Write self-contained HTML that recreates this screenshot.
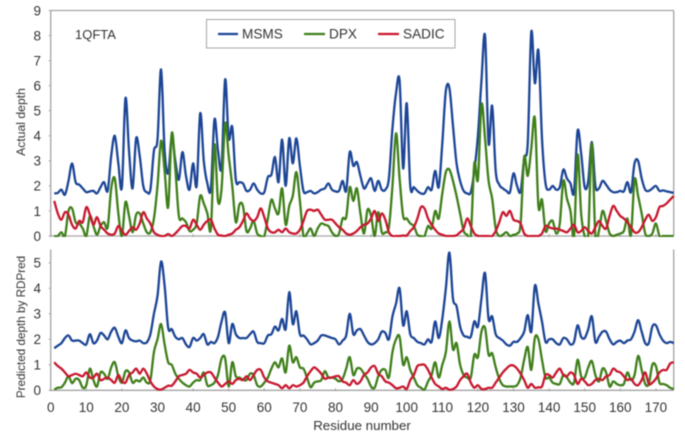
<!DOCTYPE html>
<html>
<head>
<meta charset="utf-8">
<title>Depth chart 1QFTA</title>
<style>
html,body{margin:0;padding:0;background:#fff;width:685px;height:441px;overflow:hidden}
svg{display:block;filter:blur(0.45px)}
text{font-family:"Liberation Sans",sans-serif;fill:#333333}
</style>
</head>
<body>
<svg id="chart" xmlns="http://www.w3.org/2000/svg" width="685" height="441" viewBox="0 0 685 441">
  <defs>
    <clipPath id="clip-top"><rect x="50" y="5" width="625" height="232"/></clipPath>
    <clipPath id="clip-bottom"><rect x="50" y="245" width="625" height="146.5"/></clipPath>
  </defs>
  <rect x="0" y="0" width="685" height="441" fill="#ffffff"/>
  <g id="top-panel"></g>
  <g id="bottom-panel"></g>
  <text x="75" y="39" font-size="13">1QFTA</text>
  <text transform="translate(25,122) rotate(-90)" text-anchor="middle" font-size="12.2">Actual depth</text>
  <text transform="translate(25,327) rotate(-90)" text-anchor="middle" font-size="11.7">Predicted depth by RDPred</text>
  <text x="362" y="430" text-anchor="middle" font-size="13.3">Residue number</text>
  <g>
    <rect x="206.5" y="19.5" width="248.5" height="28.5" fill="#fff" stroke="#a6a6a6" stroke-width="1"/>
    <line x1="218" y1="34" x2="238" y2="34" stroke="#1c4596" stroke-width="2.2"/>
    <text x="242" y="38.5" font-size="13.6">MSMS</text>
    <line x1="304" y1="34" x2="325" y2="34" stroke="#3f7f1a" stroke-width="2.2"/>
    <text x="329" y="38.5" font-size="13.6">DPX</text>
    <line x1="378" y1="34" x2="399" y2="34" stroke="#c8172e" stroke-width="2.2"/>
    <text x="403" y="38.5" font-size="13.6">SADIC</text>
  </g>
</svg>
<script>
var xTickLabels = [0,10,20,30,40,50,60,70,80,90,100,110,120,130,140,150,160,170];
var topYTicks = [0,1,2,3,4,5,6,7,8,9];
var bottomYTicks = [0,1,2,3,4,5];

var topMsms = [
1.7,1.72,1.85,1.65,2.2,2.9,2.15,2.05,1.9,1.75,
1.78,1.8,1.7,1.95,2.15,1.8,3.2,4.0,2.9,1.95,
5.5,3.4,1.9,3.9,3.2,2.0,1.75,1.85,3.4,3.85,
6.65,3.4,2.5,3.95,3.0,2.25,3.35,2.4,1.85,2.9,
2.0,4.9,3.0,2.1,1.9,4.65,3.4,2.75,6.25,3.9,
4.35,2.25,2.15,2.1,1.8,1.85,2.1,1.85,1.7,1.75,
2.35,2.45,3.15,2.15,3.85,2.0,3.9,2.9,3.9,2.8,
1.8,1.75,1.8,1.7,1.75,1.85,1.9,2.1,1.85,1.78,
1.8,2.2,1.8,3.35,2.8,2.95,2.4,1.9,2.1,2.3,
1.8,2.2,1.85,1.85,2.3,4.3,5.7,6.2,2.7,5.3,
2.0,1.95,1.8,1.7,1.7,1.95,1.85,2.6,1.95,3.7,
5.8,5.9,4.4,2.9,2.2,1.8,1.7,1.75,2.6,4.0,
6.2,8.0,3.7,5.2,2.6,2.05,1.9,1.8,1.75,2.5,
2.0,1.78,3.1,3.7,8.15,6.1,7.4,3.9,2.1,1.85,
2.0,1.85,1.95,2.65,2.3,2.1,1.75,4.2,3.3,1.95,
2.2,3.75,2.0,1.9,2.2,2.05,1.85,1.75,1.75,1.8,
1.78,2.15,1.75,2.9,3.0,2.3,1.85,1.8,1.9,2.0,
1.8,1.82,1.78,1.75,1.72];

var topDpx = [
0,0,.15,0,1.0,1.1,.55,.5,.3,0,
.8,.4,.05,.4,.55,.35,1.9,2.3,.9,0,
1.35,.8,.15,.85,.9,.5,.15,.15,.7,2.0,
3.8,2.6,1.15,4.1,2.7,.8,.7,.55,.2,.25,
.5,1.6,1.3,.9,.3,3.65,1.4,1.9,4.5,3.2,
2.0,.55,1.25,1.2,.2,.3,.6,.1,0,0,
.7,1.45,1.1,.9,1.9,.45,1.2,1.6,2.55,1.4,
0,.1,.3,0,.3,.5,.45,.4,.15,0,
.1,.7,.75,1.95,1.4,1.9,.9,.1,1.05,.8,
0,.95,.15,.15,.35,2.0,4.1,2.3,.8,.7,
.5,.4,.05,0,0,.4,.3,1.0,.7,1.7,
2.55,2.65,2.2,1.6,.9,.2,.05,0,2.9,2.25,
5.25,3.9,2.2,1.5,.3,0,.05,.15,0,.05,
.1,.5,3.15,2.4,3.5,4.7,1.2,1.45,.2,.5,
.6,.1,.5,2.2,1.5,1.0,0,3.25,.9,0,
.1,3.7,0,.2,1.0,.6,.1,0,.05,.1,
.2,.7,.05,2.25,1.6,.9,.1,0,.1,.5,
0,0,0,0,0];

var topSadic = [
1.4,.9,.65,.95,.85,.45,.3,.6,.55,1.15,
.85,.45,.75,.4,.25,.1,.05,.1,.4,.2,
.05,.2,.35,.25,.5,.95,.7,.5,.15,.05,
0,0,.08,0,.1,.25,.4,.4,.3,.65,
.45,.25,.45,.6,.65,.3,.05,.02,0,.05,
.1,.25,.35,.6,.9,.7,.6,.75,1.1,.75,
.3,.15,.15,.25,.15,.3,.15,.1,.1,.25,
.6,1.0,1.05,1.0,1.05,.85,.65,.65,.65,.5,
.35,.25,.1,.05,.1,.2,.35,.45,.5,.7,
1.0,.6,.9,.65,.15,0,0,0,.02,.02,
.2,.35,.7,1.15,1.1,.7,.45,.25,.1,.05,
0,0,0,.03,.15,.3,.7,.4,.1,0,
0,0,0,0,.2,.55,.95,.8,1.0,.65,
.6,.5,.1,0,0,0,0,.1,.4,.35,
.3,.3,.25,.2,.15,.3,.45,.15,.2,.35,
.2,.1,.35,.6,.4,.3,.8,1.2,1.0,.8,
.7,.55,.35,.15,.15,.35,.65,.85,.6,.75,
1.15,1.2,1.3,1.45,1.6];

var bottomMsms = [
1.65,1.75,1.85,2.05,2.15,1.95,1.95,1.95,1.85,1.8,
2.2,1.85,1.95,2.25,2.15,2.0,2.3,2.45,2.1,1.85,
2.35,2.05,1.95,1.92,1.95,1.85,1.88,2.2,3.0,3.7,
5.05,4.1,2.45,2.4,2.1,2.0,2.05,1.8,1.7,2.05,
1.95,2.05,2.2,1.8,1.9,1.85,2.1,2.7,3.05,1.85,
2.6,2.2,2.05,2.05,2.05,2.2,2.3,1.9,1.85,1.85,
2.15,2.2,2.5,2.35,2.8,2.4,3.85,2.6,3.1,2.2,
2.15,2.0,1.8,1.85,1.95,2.15,2.15,2.1,2.05,2.0,
1.8,1.95,2.15,3.0,2.2,2.35,2.4,2.15,1.9,1.8,
1.85,2.0,2.3,2.25,2.0,2.9,3.4,4.0,2.55,3.1,
2.2,2.05,1.9,1.85,1.8,2.0,1.9,2.7,2.05,2.8,
4.0,5.4,3.6,3.3,2.5,2.15,2.1,2.1,2.7,2.5,
3.6,4.6,2.8,2.9,2.2,2.05,1.95,1.8,1.75,1.9,
1.9,2.05,2.3,2.95,2.3,4.1,3.4,2.7,1.9,2.0,
2.0,1.85,1.8,2.05,2.0,1.8,1.9,2.55,2.1,2.05,
2.4,2.9,1.9,2.1,2.3,2.3,2.0,1.8,1.9,1.95,
1.85,1.95,2.0,2.3,2.75,2.3,1.85,1.85,2.5,2.55,
2.2,1.95,1.85,1.9,1.85];

var bottomDpx = [
.03,.1,.12,.3,.55,.28,.45,.4,.1,.2,
.85,.4,.15,.7,.65,.45,.9,1.1,.55,.3,
.75,.7,.3,.4,.35,.5,.3,.4,1.5,2.0,
2.6,1.8,1.1,1.0,.65,.45,.3,.2,.15,.3,
.4,.4,.7,.2,.2,.3,.6,1.25,1.25,.15,
1.1,.55,.5,.42,.4,.65,.6,.2,.15,.3,
.5,.85,1.1,.9,1.25,.7,1.75,1.1,1.3,.9,
.85,.5,.12,.3,.35,.4,.75,.5,.5,.45,
.35,.45,.85,1.3,.6,.85,.85,.65,.45,.15,
.1,.55,.8,.8,.5,1.5,2.0,2.1,1.0,1.3,
.8,.5,.2,.1,.03,.35,.6,1.1,.5,1.0,
1.5,2.7,1.6,1.85,1.0,.6,.5,.5,1.4,1.3,
2.3,2.45,1.4,1.45,.9,.45,.2,.15,.15,.15,
.2,.5,1.2,1.7,.8,2.05,2.0,1.2,.5,.5,
.3,.25,.25,.6,.5,.3,.3,1.2,.55,.5,
.9,1.15,.6,.35,.85,.7,.15,.35,.25,.2,
.25,.7,.4,.6,1.35,.8,.25,.25,1.0,.95,
.3,.25,.2,.1,.05];

var bottomSadic = [
1.1,.95,.85,.7,.55,.6,.65,.6,.55,.7,
.5,.5,.65,.4,.45,.5,.4,.3,.6,.35,
.3,.6,.7,.85,.65,.85,.65,.35,.15,.05,
.03,.1,.18,.18,.35,.55,.6,.65,.8,.7,
.65,.5,.6,.7,.7,.5,.3,.15,.25,.35,
.25,.4,.45,.4,.55,.4,.6,.8,.8,.5,
.35,.3,.25,.2,.08,.2,.08,.2,.15,.2,
.3,.55,.75,.9,.8,.65,.45,.5,.5,.55,
.55,.35,.3,.2,.4,.25,.35,.6,.7,.9,
.95,.65,.55,.35,.3,.2,.08,.1,.15,.05,
.4,.6,.95,1.0,1.0,.8,.5,.25,.15,.05,
.1,.02,.05,.15,.4,.55,.65,.3,.1,.2,
.05,.05,.1,.1,.3,.5,.7,.85,.97,.97,
.85,.65,.4,.1,.25,.1,.12,.15,.6,.6,
.5,.7,.85,.6,.55,.7,.6,.25,.45,.35,
.2,.25,.4,.45,.4,.55,.6,.85,.75,.7,
.55,.4,.45,.25,.2,.4,.7,.25,.3,.45,
.7,.8,.8,1.05,1.1];

var SVGNS = 'http://www.w3.org/2000/svg';
var X0 = 50.7, XPER = 3.56;
var COLORS = {msms:'#1c4596', dpx:'#3f7f1a', sadic:'#c8172e'};

function xScale(r){ return X0 + XPER * r; }
function topY(v){ return 236 - 25.05 * v; }
function bottomY(v){ return 390.3 - 25.5 * v; }

function make(tag, attrs, parent){
  var el = document.createElementNS(SVGNS, tag);
  for (var k in attrs) el.setAttribute(k, attrs[k]);
  parent.appendChild(el);
  return el;
}

function smoothPath(values, yFn){
  var pts = values.map(function(v,i){ return [xScale(i+1), yFn(v)]; });
  var d = 'M' + pts[0][0].toFixed(2) + ' ' + pts[0][1].toFixed(2);
  for (var i = 0; i < pts.length-1; i++){
    var p0 = pts[Math.max(i-1,0)], p1 = pts[i], p2 = pts[i+1], p3 = pts[Math.min(i+2,pts.length-1)];
    var c1x = p1[0]+(p2[0]-p0[0])/6, c1y = p1[1]+(p2[1]-p0[1])/6;
    var c2x = p2[0]-(p3[0]-p1[0])/6, c2y = p2[1]-(p3[1]-p1[1])/6;
    d += 'C'+c1x.toFixed(2)+' '+c1y.toFixed(2)+' '+c2x.toFixed(2)+' '+c2y.toFixed(2)+' '+p2[0].toFixed(2)+' '+p2[1].toFixed(2);
  }
  return d;
}

function drawSeries(parent, values, yFn, color, clip, name){
  var p = make('path', {d:smoothPath(values,yFn), fill:'none', stroke:color, 'stroke-width':'2.3', 'stroke-linejoin':'round', 'clip-path':'url(#'+clip+')'}, parent);
  
  
}

function drawAxes(parent, yFn, yTicks, yTop, hasTop, prefix){
  var stroke = '#a3a3a3';
  var left = make('line', {x1:X0, y1:yTop, x2:X0, y2:yFn(0), stroke:stroke, 'stroke-width':'1.3'}, parent);
  
  
  var bottom = make('line', {x1:X0, y1:yFn(0), x2:xScale(175), y2:yFn(0), stroke:stroke, 'stroke-width':'1.3'}, parent);
  
  
  var right = make('line', {x1:xScale(175), y1:yTop, x2:xScale(175), y2:yFn(0), stroke:stroke, 'stroke-width':'1.3'}, parent);
  
  
  if (hasTop){
    var top = make('line', {x1:X0, y1:yTop, x2:xScale(175), y2:yTop, stroke:stroke, 'stroke-width':'1.3'}, parent);
    
    
  }
  yTicks.forEach(function(t){
    var tick = make('line', {x1:X0-2, y1:yFn(t), x2:X0, y2:yFn(t), stroke:stroke, 'stroke-width':'1'}, parent);
    
    
    var lab = make('text', {x:41, y:yFn(t)+4.8, 'text-anchor':'end', 'font-size':'13.5'}, parent);
    lab.textContent = t;
    
    
  });
  xTickLabels.forEach(function(t){
    var tick = make('line', {x1:xScale(t), y1:yFn(0)-2, x2:xScale(t), y2:yFn(0)+1, stroke:stroke, 'stroke-width':'1'}, parent);
    
    
  });
}

var topPanel = document.getElementById('top-panel');
var bottomPanel = document.getElementById('bottom-panel');

drawAxes(topPanel, topY, topYTicks, 10.5, true, 'top');
drawAxes(bottomPanel, bottomY, bottomYTicks, 249.5, false, 'bottom');

xTickLabels.forEach(function(t){
  var lab = make('text', {x:xScale(t), y:412, 'text-anchor':'middle', 'font-size':'13.5'}, bottomPanel);
  lab.textContent = t;
  
  
});

drawSeries(topPanel, topMsms, topY, COLORS.msms, 'clip-top', 'top-line-msms');
drawSeries(topPanel, topDpx, topY, COLORS.dpx, 'clip-top', 'top-line-dpx');
drawSeries(topPanel, topSadic, topY, COLORS.sadic, 'clip-top', 'top-line-sadic');
drawSeries(bottomPanel, bottomMsms, bottomY, COLORS.msms, 'clip-bottom', 'bottom-line-msms');
drawSeries(bottomPanel, bottomDpx, bottomY, COLORS.dpx, 'clip-bottom', 'bottom-line-dpx');
drawSeries(bottomPanel, bottomSadic, bottomY, COLORS.sadic, 'clip-bottom', 'bottom-line-sadic');
</script>
</body>
</html>
